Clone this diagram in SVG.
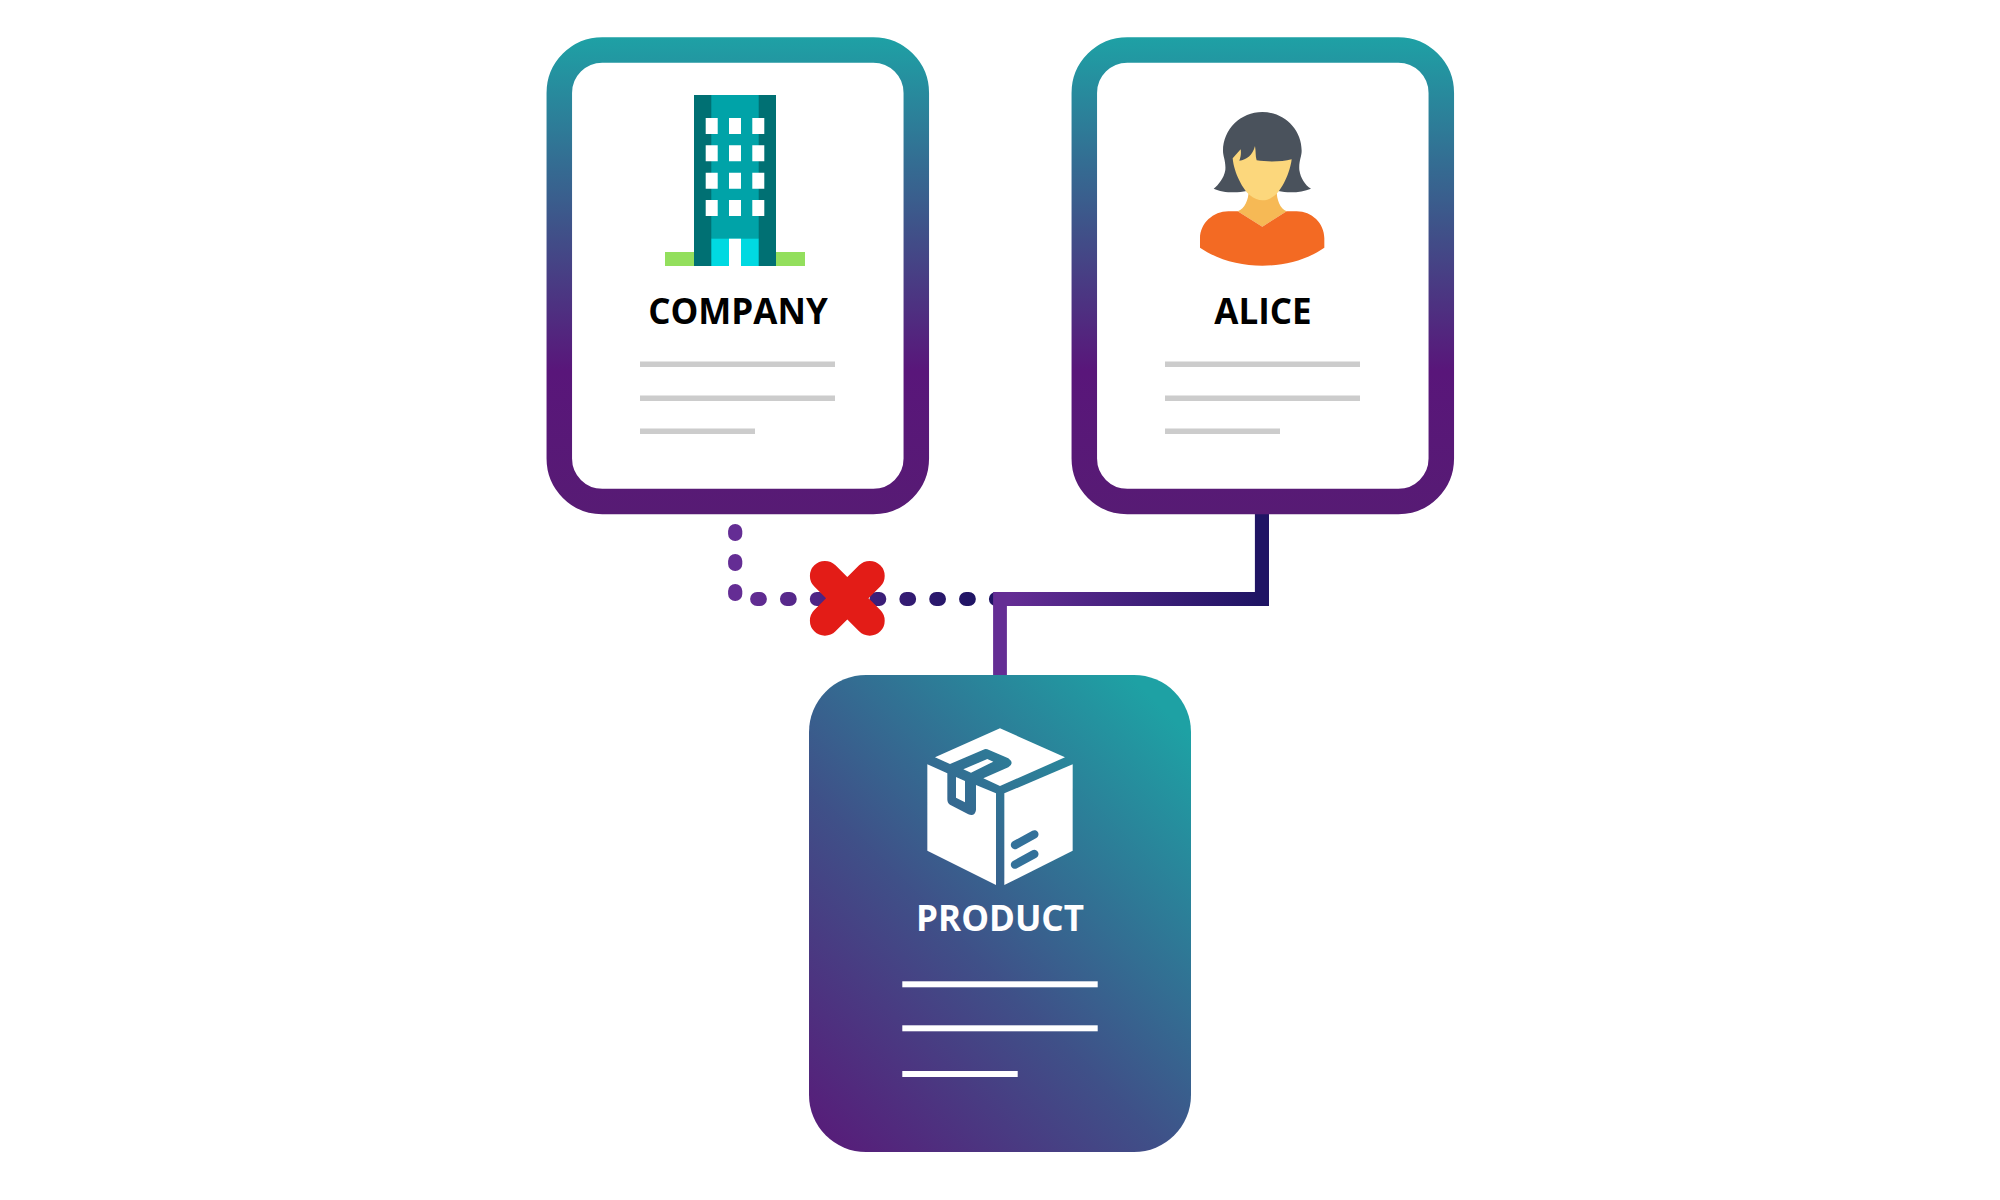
<svg xmlns="http://www.w3.org/2000/svg" width="2000" height="1200" viewBox="0 0 2000 1200">
<style>
.card{fill:#fff;stroke:url(#cardGrad);stroke-width:25.5}
.t{font-family:"Open Sans","Liberation Sans",sans-serif;font-weight:700;font-size:35px;text-anchor:middle;opacity:.999}
.g{fill:#cccccc}
.w{fill:#fff}
</style>
<defs>
<linearGradient id="cardGrad" gradientUnits="userSpaceOnUse" x1="0" y1="37" x2="0" y2="514">
<stop offset="0" stop-color="#1ea1a5"/><stop offset=".4" stop-color="#3f5289"/><stop offset=".7" stop-color="#59167a"/><stop offset="1" stop-color="#571b74"/>
</linearGradient>
<linearGradient id="prodGrad" gradientUnits="userSpaceOnUse" x1="805" y1="1108" x2="1184" y2="729">
<stop offset="0" stop-color="#561f7a"/><stop offset=".42" stop-color="#3f5088"/><stop offset="1" stop-color="#1ea1a4"/>
</linearGradient>
<linearGradient id="lineGrad" gradientUnits="userSpaceOnUse" x1="1010" y1="0" x2="1258" y2="0">
<stop offset="0" stop-color="#642d94"/><stop offset="1" stop-color="#1f1464"/>
</linearGradient>
<linearGradient id="dotGrad" gradientUnits="userSpaceOnUse" x1="745" y1="0" x2="975" y2="0">
<stop offset="0" stop-color="#642d94"/><stop offset="1" stop-color="#1f1464"/>
</linearGradient>
</defs>
<g id="connectors">
<path id="dotted-v" fill="none" stroke="#642d94" stroke-width="14.2" stroke-linecap="round" stroke-dasharray="2.8 27.2" d="M735.2 531.1V600"/>
<path id="dotted-h" fill="none" stroke="url(#dotGrad)" stroke-width="14" stroke-linecap="round" stroke-dasharray="2.8 27.05" d="M757.1 599H1000"/>
<path id="solid-link" fill="url(#lineGrad)" d="M993.1 592H1254.9V514H1269V606H1006.9V675H993.1Z"/>
</g>
<g id="company">
<rect class="card" x="559.3" y="50" width="357" height="451.5" rx="43" ry="43"/>
<g id="building">
<rect x="665" y="252" width="140" height="14" fill="#93df5d"/>
<rect x="694" y="95" width="82" height="171" fill="#007073"/>
<rect x="711.3" y="95" width="47.4" height="144" fill="#00a3a8"/>
<rect x="711.3" y="238.7" width="47.4" height="27.3" fill="#00d9e1"/>
<rect class="w" x="729" y="238.7" width="12" height="27.3"/>
<path class="w" d="M705.7 118h12v16h-12zM729 118h12v16h-12zM752.3 118h12v16h-12zM705.7 145.3h12v16h-12zM729 145.3h12v16h-12zM752.3 145.3h12v16h-12zM705.7 172.7h12v16h-12zM729 172.7h12v16h-12zM752.3 172.7h12v16h-12zM705.7 200h12v16h-12zM729 200h12v16h-12zM752.3 200h12v16h-12z"/>
</g>
<text class="t" x="738" y="324" fill="#000">COMPANY</text>
<rect class="g" x="640" y="361.5" width="195" height="5.5"/>
<rect class="g" x="640" y="395.5" width="195" height="5.5"/>
<rect class="g" x="640" y="428.5" width="115" height="5.5"/>
</g>
<g id="alice">
<rect class="card" x="1084.3" y="50" width="357" height="451.5" rx="43" ry="43"/>
<g id="person" transform="translate(1150 90) scale(.33333)">
<path fill="#4a525c" d="M337 66C272 66 219 118 219 182C219 200 228 212 226 240C222 265 205 285 191 296C215 308 260 310 290 303H385C415 310 455 308 483 296C465 285 452 265 448 240C446 212 455 200 455 182C455 118 402 66 337 66Z"/>
<path fill="#f6b955" d="M296 300C296 330 285 355 263 364L337 410L410 364C390 355 380 330 380 300Z"/>
<path fill="#fcd77c" d="M248 205L272 178C274 190 272 202 268 212C290 210 308 195 315 168C318 185 316 200 320 211C350 216 395 216 425 208C420 250 395 300 375 316C350 336 325 336 300 316C280 300 252 250 248 205Z"/>
<path fill="#f36a23" d="M150 473V445C150 400 190 364 235 364H263L337 410L410 364H440C485 364 523 400 523 445V473C470 510 404 527 337 527C270 527 204 510 150 473Z"/>
</g>
<text class="t" x="1263" y="324" fill="#000">ALICE</text>
<rect class="g" x="1165" y="361.5" width="195" height="5.5"/>
<rect class="g" x="1165" y="395.5" width="195" height="5.5"/>
<rect class="g" x="1165" y="428.5" width="115" height="5.5"/>
</g>
<g id="product">
<rect x="809" y="675" width="382" height="477" rx="57" ry="57" fill="url(#prodGrad)"/>
<g id="box" transform="translate(900 710) scale(.33333)">
<path class="w" fill-rule="evenodd" d="M300 55L495 142L300 228L250 205L325 172Q345 160 325 145L262 118Q256 116 250 119L150 162L105 142ZM190 178L262 147L280 155L213 188Z"/>
<path class="w" fill-rule="evenodd" d="M82 163L142 190V268Q142 280 150 284L205 313Q225 320 228 300V225L288 250V525L82 422ZM168 201L195 213V277L168 263Z"/>
<path class="w" d="M313 250L518 163V422L313 525Z"/>
<path fill="none" stroke="#33719a" stroke-width="25" stroke-linecap="round" d="M345 405L403 373M345 464L403 432"/>
</g>
<text class="t" x="1000" y="930.7" fill="#fff">PRODUCT</text>
<rect class="w" x="902.3" y="981.3" width="195.4" height="6"/>
<rect class="w" x="902.3" y="1025.3" width="195.4" height="6"/>
<rect class="w" x="902.3" y="1071" width="115.4" height="6"/>
</g>
<g id="cross">
<path fill="none" stroke="#e31c17" stroke-width="30" stroke-linecap="round" d="M824.9 575.9L869.7 620.7M869.7 575.9L824.9 620.7"/>
</g>
</svg>
